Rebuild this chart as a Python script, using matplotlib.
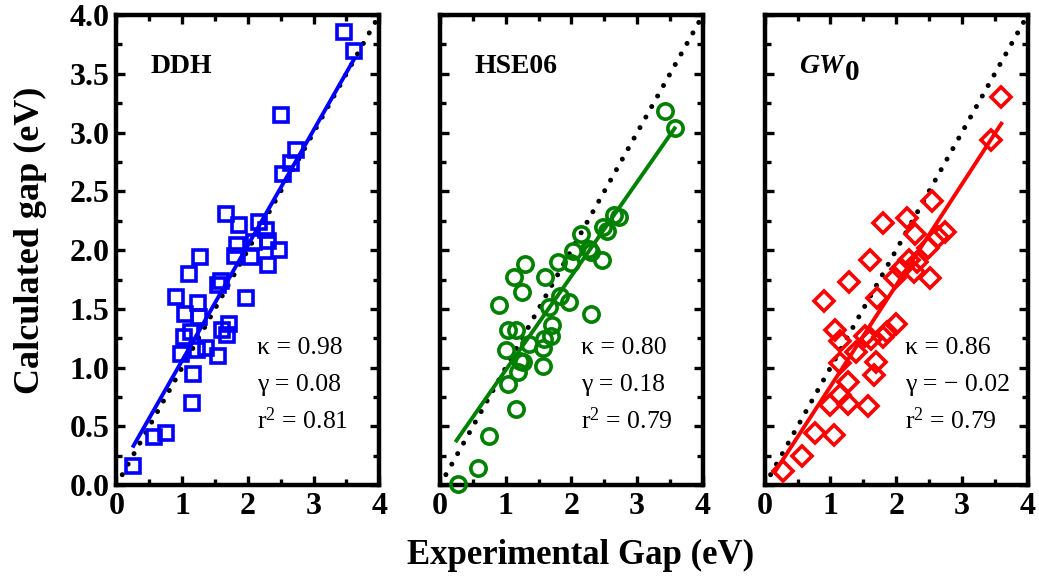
import matplotlib
matplotlib.use("Agg")
import numpy as np
import matplotlib.pyplot as plt
from matplotlib.ticker import MultipleLocator

plt.rcParams["font.family"] = "Liberation Serif"
plt.rcParams["mathtext.fontset"] = "custom"
plt.rcParams["mathtext.rm"] = "Liberation Serif"
plt.rcParams["mathtext.it"] = "Liberation Serif:italic"
plt.rcParams["mathtext.bf"] = "Liberation Serif:bold"

# experimental vs calculated gaps (eV)
ddh_exp = [0.26, 0.58, 0.76, 0.90, 0.99, 1.03, 1.04, 1.11, 1.14, 1.15, 1.16, 1.22, 1.24, 1.26,
           1.28, 1.36, 1.55, 1.54, 1.59, 1.60, 1.67, 1.69, 1.71, 1.80, 1.83, 1.87, 1.98, 2.05,
           2.10, 2.17, 2.27, 2.30, 2.30, 2.48, 2.50, 2.54, 2.66, 2.73, 3.46, 3.61]
ddh_calc = [0.16, 0.41, 0.44, 1.60, 1.12, 1.26, 1.46, 1.80, 1.30, 0.70, 0.95, 1.15, 1.55, 1.43,
            1.94, 1.17, 1.10, 1.70, 1.74, 1.32, 2.31, 1.28, 1.37, 1.95, 2.04, 2.21, 1.59, 1.94,
            2.07, 2.24, 2.17, 2.08, 1.87, 2.00, 3.15, 2.65, 2.74, 2.85, 3.86, 3.69]

hse_exp = [0.28, 0.58, 0.75, 0.90, 1.01, 1.03, 1.03, 1.12, 1.15, 1.16, 1.18, 1.21, 1.25, 1.26,
           1.29, 1.36, 1.56, 1.56, 1.58, 1.60, 1.66, 1.69, 1.71, 1.79, 1.82, 1.97, 1.99, 2.02,
           2.15, 2.26, 2.29, 2.30, 2.46, 2.48, 2.54, 2.64, 2.72, 3.43, 3.57]
hse_calc = [0.01, 0.15, 0.42, 1.53, 1.15, 0.86, 1.32, 1.77, 0.65, 1.32, 0.96, 1.06, 1.64, 1.05,
            1.88, 1.20, 1.17, 1.01, 1.24, 1.77, 1.52, 1.27, 1.36, 1.90, 1.61, 1.56, 1.89, 1.99,
            2.14, 2.01, 1.46, 1.98, 1.92, 2.20, 2.16, 2.30, 2.28, 3.18, 3.04]

gw_exp = [0.28, 0.57, 0.76, 0.90, 0.99, 1.05, 1.07, 1.14, 1.14, 1.14, 1.27, 1.27, 1.29, 1.39,
          1.52, 1.57, 1.60, 1.61, 1.67, 1.70, 1.71, 1.80, 1.80, 1.86, 1.98, 2.00, 2.08, 2.17,
          2.19, 2.27, 2.29, 2.32, 2.48, 2.51, 2.55, 2.63, 2.75, 3.45, 3.59]
gw_calc = [0.12, 0.25, 0.44, 1.57, 0.68, 0.43, 1.32, 1.23, 1.04, 0.77, 0.88, 0.69, 1.73, 1.13,
           1.27, 0.67, 1.92, 1.24, 0.94, 1.05, 1.59, 1.26, 2.23, 1.30, 1.76, 1.37, 1.84, 2.27,
           1.92, 1.81, 2.14, 1.90, 2.02, 1.76, 2.42, 2.11, 2.15, 2.94, 3.30]

kappa = [0.98, 0.80, 0.86]
gamma = [0.08, 0.18, -0.02]
r2 = [0.81, 0.79, 0.79]
fit_range = [(0.26, 3.61), (0.25, 3.57), (0.15, 3.60)]

panels = [
    (ddh_exp, ddh_calc, "#0000ff", "s", 10.5),
    (hse_exp, hse_calc, "#008000", "o", 11),
    (gw_exp, gw_calc, "#ff0000", "D", 10),
]
gamma_txt = ["0.08", "0.18", "\u2212 0.02"]

fig = plt.figure(figsize=(10.39, 5.79), dpi=100)
lefts = [0.112, 0.4235, 0.736]

for i, (xs, ys, col, mk, ms) in enumerate(panels):
    ax = fig.add_axes([lefts[i], 0.162, 0.253, 0.812])

    # y = x reference
    ax.plot([0, 4], [0, 4], color="black", lw=3.6, linestyle=(0, (0.01, 2.4)),
            dash_capstyle="round", zorder=2)

    xf = np.array(fit_range[i])
    ax.plot(xf, kappa[i] * xf + gamma[i], color=col, lw=2.8, zorder=3)

    ax.plot(xs, ys, linestyle="none", marker=mk, ms=ms, mfc="none", mec=col,
            mew=2.6, clip_on=False, zorder=4)

    ax.set_xlim(0, 4)
    ax.set_ylim(0, 4)
    ax.xaxis.set_major_locator(MultipleLocator(1))
    ax.xaxis.set_minor_locator(MultipleLocator(0.5))
    ax.yaxis.set_major_locator(MultipleLocator(0.5))
    ax.yaxis.set_minor_locator(MultipleLocator(0.25))
    ax.tick_params(which="both", direction="in", top=True, right=True, width=2.4)
    ax.tick_params(which="major", length=6.5, labelsize=23, pad=5)
    ax.tick_params(which="minor", length=4.5)
    for s in ax.spines.values():
        s.set_linewidth(3.2)
    for lab in ax.get_xticklabels() + ax.get_yticklabels():
        lab.set_fontweight("bold")
    if i == 0:
        ax.yaxis.set_major_formatter(plt.FormatStrFormatter("%.1f"))
    else:
        ax.set_yticklabels([])

    ax.text(0.535, 0.292, "\u03ba = %.2f" % kappa[i], transform=ax.transAxes,
            fontsize=18.5, va="center")
    ax.text(0.535, 0.214, "\u03b3 = " + gamma_txt[i], transform=ax.transAxes,
            fontsize=18.5, va="center")
    ax.text(0.535, 0.137, r"r$^2$ = %.2f" % r2[i], transform=ax.transAxes,
            fontsize=18.5, va="center")

    if i == 0:
        ax.text(0.13, 0.89, "DDH", transform=ax.transAxes, fontsize=20,
                fontweight="bold", va="center")
    elif i == 1:
        ax.text(0.13, 0.89, "HSE06", transform=ax.transAxes, fontsize=20,
                fontweight="bold", va="center")
    else:
        t = ax.text(0.13, 0.89, "GW", transform=ax.transAxes, fontsize=20,
                    fontweight="bold", style="italic", va="center")
        ax.annotate("0", xy=(1, 0), xycoords=t, xytext=(1, -5),
                    textcoords="offset points", fontsize=21, fontweight="bold",
                    va="bottom", ha="left")

fig.text(0.029, 0.585, "Calculated gap (eV)", rotation=90, fontsize=26,
         fontweight="bold", ha="center", va="center")
fig.text(0.559, 0.04, "Experimental Gap (eV)", fontsize=25,
         fontweight="bold", ha="center", va="center")

fig.savefig("out.png", dpi=100)
